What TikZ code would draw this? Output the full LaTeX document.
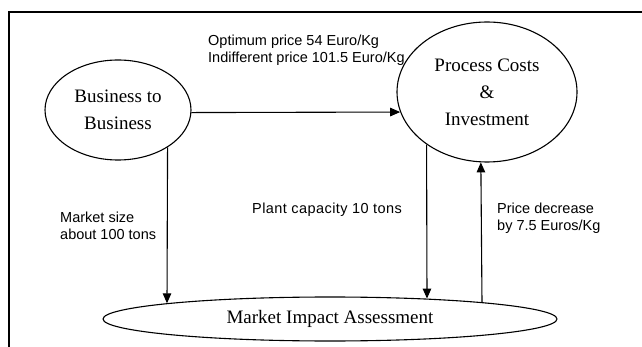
\documentclass[tikz,border=0pt]{standalone}
\usepackage{fontspec}
\setmainfont{Liberation Serif}
\newfontfamily\labelfont{Liberation Sans}
\newfontfamily\widelabelfont[LetterSpace=3]{Liberation Sans}
\usetikzlibrary{arrows.meta,shapes.geometric,calc}
\begin{document}
\begin{tikzpicture}[x=1pt,y=-1pt,
  oval/.style={draw,ellipse,line width=1.1pt,inner sep=0pt,align=center,
    font=\fontsize{19}{27}\selectfont},
  arr/.style={line width=1.1pt,-{Triangle[length=10pt,width=8.5pt]}},
  lbl/.style={font=\labelfont\fontsize{14.5}{17}\selectfont,align=left,inner sep=0pt}]
  \useasboundingbox (0,0) rectangle (642,347);
  % frame: top rule and left rule
  \coordinate (ftl) at (9,12);
  \coordinate (ftr) at (642,12);
  \coordinate (fbl) at (9,347);
  \draw[line width=1.2pt] (ftr) -- (ftl) -- (fbl);

  % the three ovals
  \node[oval,minimum width=146pt,minimum height=100pt] (b2b) at (118,110)
    {Business to\\Business};
  \node[oval,minimum width=180pt,minimum height=140pt] (pci) at (487,92)
    {Process Costs\\\&\\Investment};
  \node[oval,minimum width=454pt,minimum height=44pt] (mia) at (330,319)
    {Market Impact Assessment};

  % points on the upper rim of the flat oval, where the vertical connectors meet it
  \coordinate (miaL) at ($(mia.center)+(-163,-15.7)$);
  \coordinate (miaM) at ($(mia.center)+(97,-20.4)$);
  \coordinate (miaR) at ($(mia.center)+(152,-16.8)$);

  % connectors
  \draw[arr] (b2b.-2.34) -- (pci.193.65);
  \draw[arr] (b2b.-37.58) -- (miaL);
  \draw[arr] (pci.221.37) -- (miaM);
  \draw[arr] (miaR) -- (pci.265.94);

  % connector labels
  \node[lbl,anchor=south west] (l1) at (208,66)
    {Optimum price 54 Euro/Kg\\Indifferent price 101.5 Euro/Kg};
  \node[lbl,anchor=west] (l2) at (60,226) {Market size\\about 100 tons};
  \node[lbl,anchor=west,font=\widelabelfont\fontsize{14.5}{17}\selectfont] (l3)
    at (252,210) {Plant capacity 10 tons};
  \node[lbl,anchor=west] (l4) at (497,218) {Price decrease\\by 7.5 Euros/Kg};
\end{tikzpicture}
\end{document}
